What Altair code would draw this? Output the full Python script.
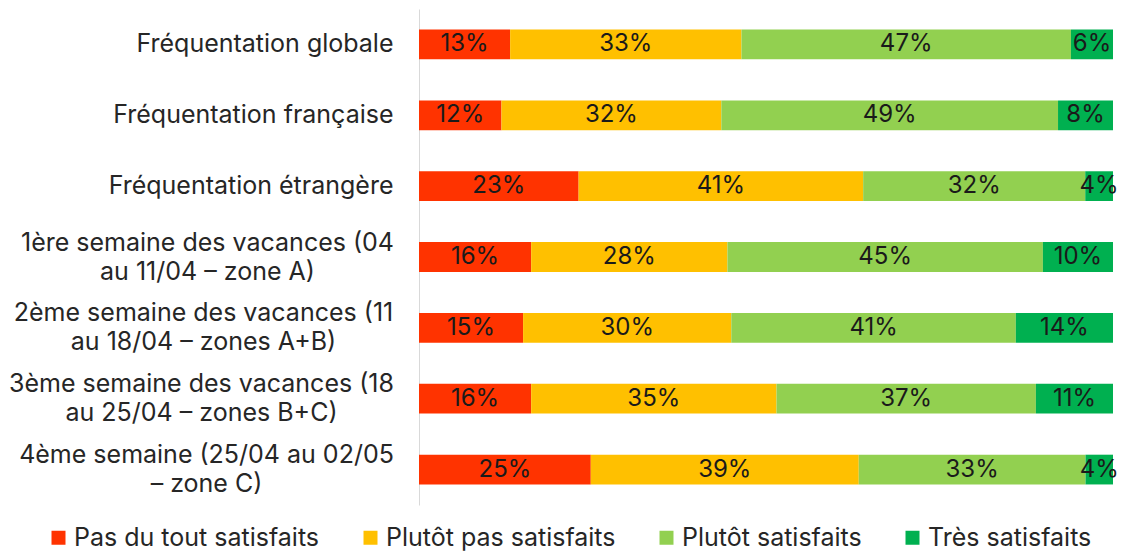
import altair as alt
import pandas as pd

categories = [
    "Fréquentation globale",
    "Fréquentation française",
    "Fréquentation étrangère",
    "1ère semaine des vacances (04|au 11/04 – zone A)",
    "2ème semaine des vacances (11|au 18/04 – zones A+B)",
    "3ème semaine des vacances (18|au 25/04 – zones B+C)",
    "4ème semaine (25/04 au 02/05|– zone C)",
]
series = ["Pas du tout satisfaits", "Plutôt pas satisfaits", "Plutôt satisfaits", "Très satisfaits"]
pas_du_tout = [13, 12, 23, 16, 15, 16, 25]
plutot_pas = [33, 32, 41, 28, 30, 35, 39]
plutot = [47, 49, 32, 45, 41, 37, 33]
tres = [6, 8, 4, 10, 14, 11, 4]
colors = ["#FF3300", "#FFC000", "#92D050", "#00B050"]

rows = []
for si, (name, vals) in enumerate(zip(series, [pas_du_tout, plutot_pas, plutot, tres])):
    for ci, cat in enumerate(categories):
        rows.append({"category": cat, "series": name, "order": si, "value": vals[ci]})
df = pd.DataFrame(rows)

FONT = "Inter"
LABEL_SIZE = 25

# multi-line labels are centred; pad them so their widest line ends near the other labels
multi_pad = [
    {"test": f"datum.label == '{categories[3]}'", "value": 212},
    {"test": f"datum.label == '{categories[4]}'", "value": 216},
    {"test": f"datum.label == '{categories[5]}'", "value": 218},
    {"test": f"datum.label == '{categories[6]}'", "value": 213},
]

base = alt.Chart(df).transform_stack(
    stack="value", groupby=["category"], as_=["v0", "v1"],
    sort=[alt.SortField("order", order="ascending")], offset="normalize"
).transform_calculate(mid="(datum.v0 + datum.v1) / 2", lbl="datum.value + '%'")

yenc = alt.Y(
    "category:N", sort=categories, title=None,
    scale=alt.Scale(paddingInner=0.58, paddingOuter=0.29),
    axis=alt.Axis(
        labelExpr="split(datum.label, '|')", labelFont=FONT, labelFontSize=LABEL_SIZE,
        labelColor="#262626", labelLineHeight=29, ticks=False,
        domainColor="#d9d9d9", domainWidth=1, labelLimit=450,
        labelAlign={"condition": {"test": "indexof(datum.label, '|') >= 0", "value": "center"}, "value": "right"},
        labelPadding={"condition": multi_pad, "value": 26},
        labelOffset={"condition": {"test": "indexof(datum.label, '|') >= 0", "value": -14.5}, "value": 0},
    ),
)

bars = base.mark_bar().encode(
    y=yenc,
    x=alt.X("v0:Q", axis=None, scale=alt.Scale(domain=[0, 1])),
    x2="v1:Q",
    color=alt.Color(
        "series:N", sort=series,
        scale=alt.Scale(domain=series, range=colors),
        legend=alt.Legend(
            title=None, orient="none", direction="horizontal", legendX=-373, legendY=516,
            symbolType="square", symbolSize=196, symbolStrokeWidth=0, labelFont=FONT,
            labelFontSize=25, labelColor="#262626", columnPadding=38, labelOffset=3,
            labelLimit=500,
        ),
    ),
)

text = base.mark_text(font=FONT, fontSize=24, color="#1a1a1a").encode(
    y=alt.Y("category:N", sort=categories),
    x=alt.X("mid:Q"),
    text="lbl:N",
)

chart = alt.layer(bars, text).properties(
    width=694, height=496,
    autosize=alt.AutoSizeParams(type="none"),
    padding={"left": 411, "top": 1, "right": 6, "bottom": 48},
).configure_view(stroke=None)

chart.save("out.html", embed_options={"renderer": "svg", "actions": False})
